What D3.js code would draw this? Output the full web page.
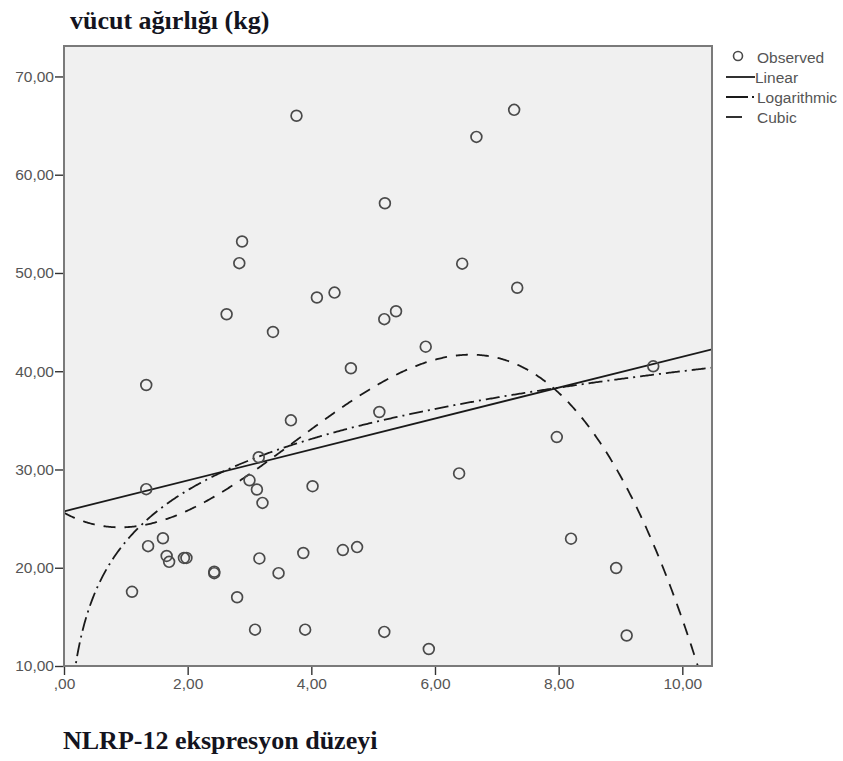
<!DOCTYPE html>
<html>
<head>
<meta charset="utf-8">
<script src="https://cdn.jsdelivr.net/npm/d3@7"></script>
<style>
  body { margin: 0; background: #fff; }
</style>
</head>
<body>
<svg id="chart" width="843" height="761" font-family="'Liberation Sans', Arial, sans-serif"></svg>
<script>
// observed points: NLRP-12 expression (x) vs body weight kg (y)
const obsX = [3.76, 7.28, 6.67, 5.19, 2.88, 2.835, 4.09, 4.375, 2.63, 3.38,
  4.64, 1.33, 3.67, 3.15, 6.44, 7.33, 5.37, 5.18, 5.85, 5.10,
  7.97, 9.53, 1.33, 3.00, 3.12, 3.21, 4.02, 1.60, 1.36, 1.66,
  1.70, 1.94, 1.98, 2.43, 2.43, 3.16, 3.87, 4.51, 4.74, 3.47,
  1.10, 2.80, 3.09, 3.90, 6.39, 8.20, 8.93, 5.18, 5.90, 9.10];
const obsY = [66.0, 66.6, 63.85, 57.1, 53.2, 51.0, 47.5, 48.0, 45.8, 44.0,
  40.3, 38.6, 35.0, 31.25, 50.95, 48.5, 46.1, 45.3, 42.5, 35.85,
  33.3, 40.5, 28.0, 28.9, 27.96, 26.6, 28.3, 23.0, 22.2, 21.2,
  20.6, 21.0, 21.0, 19.6, 19.45, 20.95, 21.5, 21.8, 22.1, 19.45,
  17.55, 17.0, 13.7, 13.7, 29.6, 22.96, 19.97, 13.47, 11.73, 13.1];

// fitted model coefficients
const linearCoef = [25.74, 1.574];            // b0 + b1*x
const logCoef = [22.67, 7.53];                // b0 + b1*ln(x)
const cubicCoef = [25.6, -3.445, 2.163, -0.1927]; // b0 + b1 x + b2 x^2 + b3 x^3

const xTicks = [0, 2, 4, 6, 8, 10];
const yTicks = [10, 20, 30, 40, 50, 60, 70];
const xDomain = [0, 10.48];
const yDomain = [10, 73.1];

const legendItems = ["Observed", "Linear", "Logarithmic", "Cubic"];

const svg = d3.select("#chart");
const plotL = 64, plotR = 712, plotT = 46, plotB = 666;

const x = d3.scaleLinear().domain(xDomain).range([plotL, plotR]);
const y = d3.scaleLinear().domain(yDomain).range([plotB, plotT]);

const fmt = d => d === 0 ? ",00" : d3.format(".2f")(d).replace(".", ",");

// plot background
svg.append("rect")
  .attr("x", plotL).attr("y", plotT)
  .attr("width", plotR - plotL).attr("height", plotB - plotT)
  .attr("fill", "#f0f0f0");

svg.append("clipPath").attr("id", "plotClip")
  .append("rect")
  .attr("x", plotL).attr("y", plotT)
  .attr("width", plotR - plotL).attr("height", plotB - plotT);

// axes
const yAxis = svg.append("g")
  .attr("transform", `translate(${plotL},0)`)
  .call(d3.axisLeft(y).tickValues(yTicks).tickSize(9).tickPadding(1).tickFormat(fmt));
const xAxis = svg.append("g")
  .attr("transform", `translate(0,${plotB})`)
  .call(d3.axisBottom(x).tickValues(xTicks).tickSize(9).tickPadding(3).tickFormat(fmt));

[xAxis, yAxis].forEach(g => {
  g.select(".domain").remove();
  g.selectAll(".tick line").attr("stroke", "#333").attr("stroke-width", 1.4);
  g.selectAll(".tick text")
    .attr("fill", "#555")
    .attr("font-size", "15.5px")
    .attr("font-family", "'Liberation Sans', Arial, sans-serif");
});

// fit curves
const plot = svg.append("g").attr("clip-path", "url(#plotClip)");
const samples = d3.range(0.01, xDomain[1] + 0.02, 0.02);
const line = d3.line().x(d => x(d[0])).y(d => y(d[1]));

const linearFn = v => linearCoef[0] + linearCoef[1] * v;
const logFn = v => logCoef[0] + logCoef[1] * Math.log(v);
const cubicFn = v => cubicCoef[0] + cubicCoef[1] * v + cubicCoef[2] * v * v + cubicCoef[3] * v * v * v;

plot.append("path")
  .attr("d", line([0, xDomain[1]].map(v => [v, linearFn(v)])))
  .attr("fill", "none").attr("stroke", "#1a1a1a").attr("stroke-width", 1.8);

plot.append("path")
  .attr("d", line(samples.filter(v => logFn(v) > 8).map(v => [v, logFn(v)])))
  .attr("fill", "none").attr("stroke", "#1a1a1a").attr("stroke-width", 1.8)
  .attr("stroke-dasharray", "14,5,2,5");

plot.append("path")
  .attr("d", line([0].concat(samples).map(v => [v, cubicFn(v)])))
  .attr("fill", "none").attr("stroke", "#1a1a1a").attr("stroke-width", 1.8)
  .attr("stroke-dasharray", "12,9");

// observed points
plot.selectAll("circle.obs")
  .data(obsX.map((v, i) => [v, obsY[i]]))
  .enter().append("circle")
  .attr("class", "obs")
  .attr("cx", d => x(d[0]))
  .attr("cy", d => y(d[1]))
  .attr("r", 5.4)
  .attr("fill", "none")
  .attr("stroke", "#4a4a4a")
  .attr("stroke-width", 1.7);

// frame
svg.append("rect")
  .attr("x", plotL).attr("y", plotT)
  .attr("width", plotR - plotL).attr("height", plotB - plotT)
  .attr("fill", "none").attr("stroke", "#7a7a7a").attr("stroke-width", 2);

// titles
svg.append("text")
  .attr("x", 70).attr("y", 29)
  .attr("font-family", "'Liberation Serif', 'Times New Roman', serif")
  .attr("font-weight", "bold").attr("font-size", "26px").attr("fill", "#141420")
  .text("vücut ağırlığı (kg)");

svg.append("text")
  .attr("x", 63).attr("y", 749)
  .attr("font-family", "'Liberation Serif', 'Times New Roman', serif")
  .attr("font-weight", "bold").attr("font-size", "26px").attr("fill", "#141420")
  .text("NLRP-12 ekspresyon düzeyi");

// legend
const legend = svg.append("g");
const legY = [57, 77, 97, 117];
legendItems.forEach((name, i) => {
  const g = legend.append("g");
  if (i === 0) {
    g.append("circle").attr("cx", 738).attr("cy", legY[i] - 1).attr("r", 4.5)
      .attr("fill", "none").attr("stroke", "#4a4a4a").attr("stroke-width", 1.6);
  } else {
    const dash = i === 1 ? null : i === 2 ? "22,4,2,10" : "16,20";
    g.append("line")
      .attr("x1", 726).attr("x2", 755)
      .attr("y1", legY[i]).attr("y2", legY[i])
      .attr("stroke", "#1a1a1a").attr("stroke-width", 1.8)
      .attr("stroke-dasharray", dash);
  }
  g.append("text")
    .attr("x", i === 1 ? 755 : 757).attr("y", legY[i] + 5.5)
    .attr("font-size", "15.5px").attr("fill", "#555")
    .text(name);
});
</script>
</body>
</html>
